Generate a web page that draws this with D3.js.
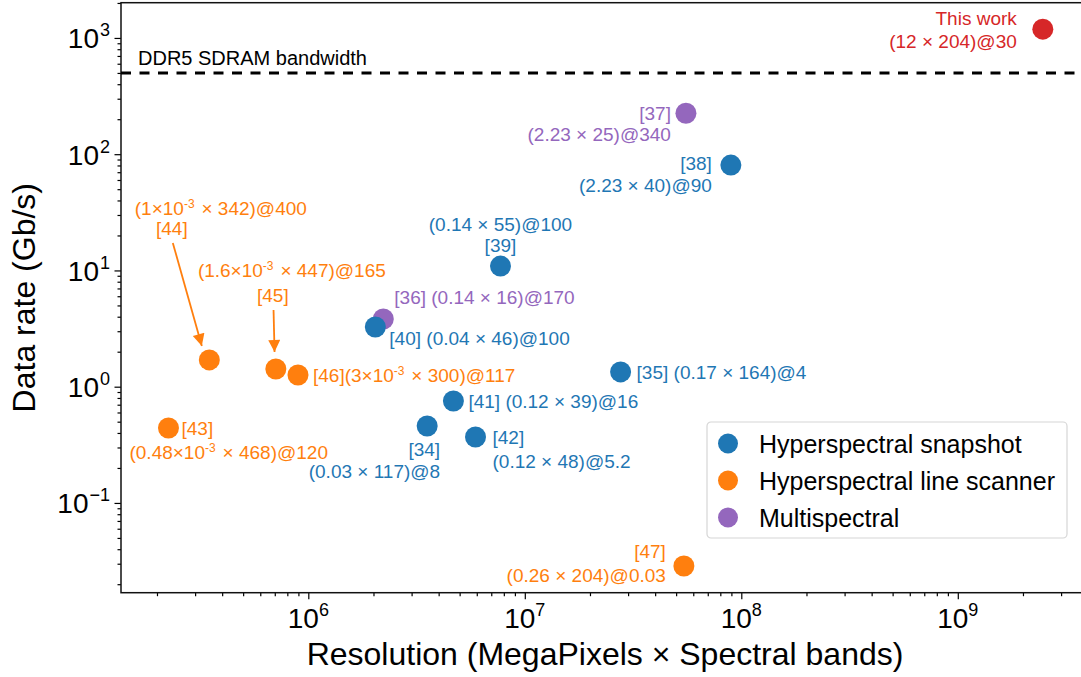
<!DOCTYPE html>
<html>
<head>
<meta charset="utf-8">
<script src="https://cdn.jsdelivr.net/npm/d3@7"></script>
<style>
  body { margin: 0; background: #fff; }
  svg { display: block; font-family: "Liberation Sans", Arial, Helvetica, sans-serif; }
</style>
</head>
<body>
<div id="chart"></div>
<script>
// data
var refs = ['[37]', '[36]', '[34]', '[35]', '[38]', '[39]', '[40]', '[41]', '[42]',
  '[43]', '[44]', '[45]', '[46]', '[47]', 'This work'];
var groups = ['multi', 'multi', 'snap', 'snap', 'snap', 'snap', 'snap', 'snap', 'snap',
  'line', 'line', 'line', 'line', 'line', 'this'];
// resolution = pixels x spectral bands
var resolution = [5.55e7, 2.22e6, 3.54e6, 2.77e7, 8.95e7, 7.72e6, 2.04e6, 4.68e6, 5.92e6,
  2.26e5, 3.49e5, 7.08e5, 8.96e5, 5.43e7, 2.47e9];
// data rate in Gb/s
var dataRate = [225, 3.82, 0.459, 1.34, 80.6, 10.9, 3.26, 0.753, 0.369,
  0.441, 1.70, 1.42, 1.26, 0.0287, 1190];
var ddr5Bandwidth = 500;

var legendNames = ['Hyperspectral snapshot', 'Hyperspectral line scanner', 'Multispectral'];
var legendKeys = ['snap', 'line', 'multi'];

var xMajorTicks = [1e6, 1e7, 1e8, 1e9];
var yMajorTicks = [1e-1, 1e0, 1e1, 1e2, 1e3];

// label text per reference, "^{..}" marks a superscript
var labelText = {
  'This work': ['This work', '(12 × 204)@30'],
  '[37]': ['[37]', '(2.23 × 25)@340'],
  '[38]': ['[38]', '(2.23 × 40)@90'],
  '[39]': ['(0.14 × 55)@100', '[39]'],
  '[36]': ['[36] (0.14 × 16)@170'],
  '[40]': ['[40] (0.04 × 46)@100'],
  '[44]': ['(1×10^{-3} × 342)@400', '[44]'],
  '[45]': ['(1.6×10^{-3} × 447)@165', '[45]'],
  '[46]': ['[46](3×10^{-3} × 300)@117'],
  '[35]': ['[35] (0.17 × 164)@4'],
  '[41]': ['[41] (0.12 × 39)@16'],
  '[34]': ['[34]', '(0.03 × 117)@8'],
  '[42]': ['[42]', '(0.12 × 48)@5.2'],
  '[43]': ['[43]', '(0.48×10^{-3} × 468)@120'],
  '[47]': ['[47]', '(0.26 × 204)@0.03']
};

// label placement relative to the marker: [anchor, dx, dy] for each line
var labelPlace = {
  'This work': [['end', -26, -11], ['end', -26, 12]],
  '[37]': [['end', -15, 0], ['end', -15, 21]],
  '[38]': [['end', -19, -2], ['end', -19, 20]],
  '[39]': [['middle', 0, -42], ['middle', 0, -21]],
  '[36]': [['start', 11, -22]],
  '[40]': [['start', 14, 11]],
  '[44]': [['middle', 11.5, -152], ['middle', -37.5, -132]],
  '[45]': [['middle', 16, -99], ['middle', -3, -74]],
  '[46]': [['start', 15, 0]],
  '[35]': [['start', 16, 0]],
  '[41]': [['start', 15, 0]],
  '[34]': [['end', 13, 23], ['end', 13, 45]],
  '[42]': [['start', 17, 0], ['start', 17, 24]],
  '[43]': [['start', 13, 0], ['start', -39, 24]],
  '[47]': [['end', -18, -15], ['end', -18, 9]]
};
// arrows: from / to offsets relative to the marker
var arrows = {
  '[44]': [[-36.5, -117], [-7.5, -14]],
  '[45]': [[-2.3, -59], [-1.3, -17]]
};

var color = d3.scaleOrdinal()
  .domain(['snap', 'line', 'multi', 'this'])
  .range(['#1f77b4', '#ff7f0e', '#9467bd', '#d62728']);

var margin = { top: 2.7, left: 121 },
  width = 969,
  height = 590;

var svg = d3.select('#chart').append('svg')
  .attr('width', 1081)
  .attr('height', 677);

var g = svg.append('g')
  .attr('transform', 'translate(' + margin.left + ',' + margin.top + ')');

var xScale = d3.scaleLog().domain([1.364e5, 4.08e9]).range([0, width]);
var yScale = d3.scaleLog().domain([0.0169, 2010]).range([height, 0]);

function isPow10(v) {
  var l = Math.log10(v);
  return Math.abs(l - Math.round(l)) < 1e-9;
}

// write "10^{-3}" style strings into tspans
function richText(sel, str, supSize, supRise) {
  var parts = str.split(/\^\{([^}]*)\}/);
  parts.forEach(function (p, i) {
    if (p === '') return;
    if (i % 2 === 1) {
      sel.append('tspan').attr('dy', -supRise).style('font-size', supSize + 'px').text(p);
      sel.append('tspan').attr('dy', supRise).text('\u200a');
    } else {
      sel.append('tspan').text(p);
    }
  });
}

// axes
var xMinor = xScale.ticks().filter(function (d) { return !isPow10(d); });
var yMinor = yScale.ticks().filter(function (d) { return !isPow10(d); });

g.append('g').attr('transform', 'translate(0,' + height + ')')
  .call(d3.axisBottom(xScale).tickValues(xMinor).tickSize(3.5).tickFormat(''))
  .call(function (a) { a.select('.domain').remove(); });
g.append('g').attr('transform', 'translate(0,' + height + ')')
  .call(d3.axisBottom(xScale).tickValues(xMajorTicks).tickSize(6.5).tickFormat(''))
  .call(function (a) { a.select('.domain').remove(); });
g.append('g')
  .call(d3.axisLeft(yScale).tickValues(yMinor).tickSize(3.5).tickFormat(''))
  .call(function (a) { a.select('.domain').remove(); });
g.append('g')
  .call(d3.axisLeft(yScale).tickValues(yMajorTicks).tickSize(6.5).tickFormat(''))
  .call(function (a) { a.select('.domain').remove(); });
g.selectAll('.tick line').attr('stroke', '#000').attr('stroke-width', 1.2);

// tick labels
xMajorTicks.forEach(function (v) {
  var t = g.append('text')
    .attr('x', xScale(v))
    .attr('y', height + 35)
    .attr('text-anchor', 'middle')
    .style('font-size', '28px')
    .style('fill', '#000');
  t.append('tspan').text('10');
  t.append('tspan').attr('dy', -12).style('font-size', '18px').text(Math.round(Math.log10(v)));
});
yMajorTicks.forEach(function (v) {
  var e = Math.round(Math.log10(v));
  var t = g.append('text')
    .attr('x', -11)
    .attr('y', yScale(v) + 10.5)
    .attr('text-anchor', 'end')
    .style('font-size', '28px')
    .style('fill', '#000');
  t.append('tspan').text('10');
  t.append('tspan').attr('dy', -12).attr('dx', 1).style('font-size', '18px')
    .text(e < 0 ? '\u2212' + (-e) : e);
});

// spines
g.append('rect')
  .attr('x', 0).attr('y', 0)
  .attr('width', width).attr('height', height)
  .attr('fill', 'none')
  .attr('stroke', '#111')
  .attr('stroke-width', 1.5);

// axis titles
svg.append('text')
  .attr('x', 605)
  .attr('y', 665)
  .attr('text-anchor', 'middle')
  .style('font-size', '32px')
  .text('Resolution (MegaPixels × Spectral bands)');
svg.append('text')
  .attr('transform', 'translate(35,' + (margin.top + height / 2) + ') rotate(-90)')
  .attr('text-anchor', 'middle')
  .style('font-size', '32px')
  .text('Data rate (Gb/s)');

// DDR5 bandwidth line
g.append('line')
  .attr('x1', 0).attr('x2', width)
  .attr('y1', yScale(ddr5Bandwidth)).attr('y2', yScale(ddr5Bandwidth))
  .attr('stroke', '#000')
  .attr('stroke-width', 3)
  .attr('stroke-dasharray', '10,8.5');
g.append('text')
  .attr('x', 17)
  .attr('y', yScale(ddr5Bandwidth) - 8)
  .style('font-size', '20px')
  .text('DDR5 SDRAM bandwidth');

// arrows
svg.append('defs').append('marker')
  .attr('id', 'arrowhead')
  .attr('viewBox', '0 0 10 10')
  .attr('refX', 10).attr('refY', 5)
  .attr('markerUnits', 'userSpaceOnUse')
  .attr('markerWidth', 15).attr('markerHeight', 12)
  .attr('orient', 'auto')
  .append('path')
  .attr('d', 'M0,0L10,5L0,10z')
  .attr('fill', color('line'));

refs.forEach(function (r, i) {
  if (!arrows[r]) return;
  var cx = xScale(resolution[i]), cy = yScale(dataRate[i]);
  g.append('line')
    .attr('x1', cx + arrows[r][0][0]).attr('y1', cy + arrows[r][0][1])
    .attr('x2', cx + arrows[r][1][0]).attr('y2', cy + arrows[r][1][1])
    .attr('stroke', color(groups[i]))
    .attr('stroke-width', 1.8)
    .attr('marker-end', 'url(#arrowhead)');
});

// points
g.selectAll('.dot')
  .data(refs)
  .enter()
  .append('circle')
  .attr('class', 'dot')
  .attr('cx', function (d, i) { return xScale(resolution[i]); })
  .attr('cy', function (d, i) { return yScale(dataRate[i]); })
  .attr('r', 10.5)
  .attr('fill', function (d, i) { return color(groups[i]); });

// point labels
refs.forEach(function (r, i) {
  var cx = xScale(resolution[i]), cy = yScale(dataRate[i]);
  labelText[r].forEach(function (line, k) {
    var p = labelPlace[r][k];
    var t = g.append('text')
      .attr('x', cx + p[1])
      .attr('y', cy + p[2] + 6.8)
      .attr('text-anchor', p[0])
      .style('font-size', '19px')
      .style('fill', color(groups[i]));
    richText(t, line, 12, 7);
  });
});

// legend
var legend = svg.append('g').attr('transform', 'translate(707,422)');
legend.append('rect')
  .attr('width', 360).attr('height', 116)
  .attr('rx', 4)
  .attr('fill', '#fff').attr('fill-opacity', 0.8)
  .attr('stroke', '#d6d6d6').attr('stroke-width', 1.2);
legendKeys.forEach(function (k, i) {
  legend.append('circle')
    .attr('cx', 21).attr('cy', 21.5 + i * 37)
    .attr('r', 10)
    .attr('fill', color(k));
  legend.append('text')
    .attr('x', 52).attr('y', 21.5 + i * 37 + 9)
    .style('font-size', '25px')
    .text(legendNames[i]);
});
</script>
</body>
</html>
